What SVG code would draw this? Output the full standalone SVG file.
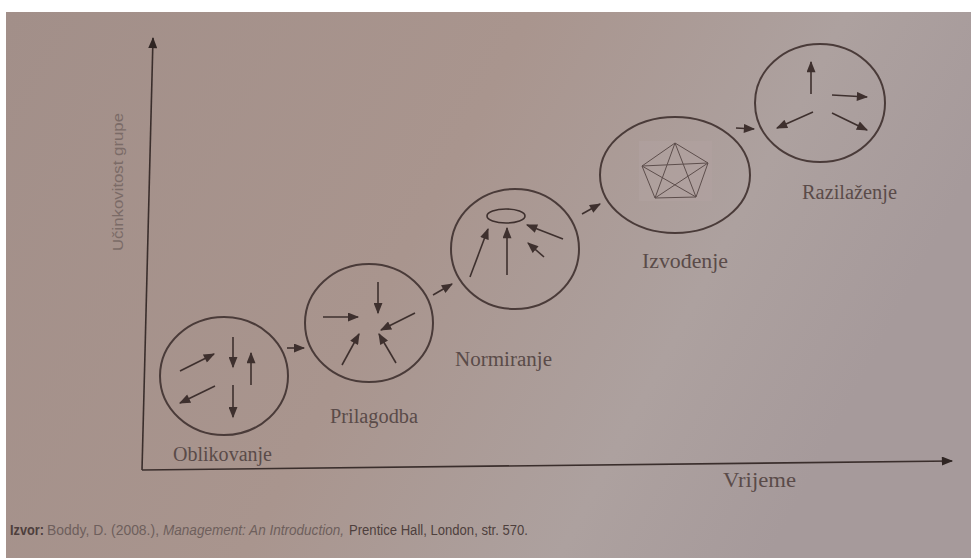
<svg xmlns="http://www.w3.org/2000/svg" width="971" height="558" viewBox="0 0 971 558">
<defs>
<linearGradient id="bg" x1="0" y1="0" x2="1" y2="0.3">
<stop offset="0" stop-color="#a28f89"/>
<stop offset="0.5" stop-color="#a9958e"/>
<stop offset="0.8" stop-color="#ada19f"/>
<stop offset="1" stop-color="#a69a9b"/>
</linearGradient>
<marker id="ah" viewBox="0 0 10 8" refX="9" refY="4" markerWidth="12" markerHeight="9" markerUnits="userSpaceOnUse" orient="auto">
<path d="M0,0 L10,4 L0,8 Z" fill="#3e302e"/>
</marker>
<marker id="axh" viewBox="0 0 10 8" refX="9" refY="4" markerWidth="12" markerHeight="9" markerUnits="userSpaceOnUse" orient="auto">
<path d="M0,0 L10,4 L0,8 Z" fill="#2f2523"/>
</marker>
</defs>
<style>
.c{fill:none;stroke:#4a3b39;stroke-width:2}
.a{stroke:#3e302e;stroke-width:1.6;fill:none;marker-end:url(#ah)}
.ax{stroke:#3a2e2c;stroke-width:1.6;fill:none;marker-end:url(#axh)}
.lbl{font-family:"Liberation Serif","DejaVu Serif",serif;font-size:20px;fill:#5a4b49}
.pl{stroke:#5d4e4c;stroke-width:1;fill:none}
.src{font-family:"Liberation Sans","Open Sans",sans-serif;font-size:14px;fill:#6e5f5c}
.dk{fill:#4e3f3d}
</style>
<rect x="0" y="0" width="971" height="558" fill="#ffffff"/>
<rect x="6" y="12" width="965" height="546" fill="url(#bg)"/>

<g id="axes">
<line class="ax" x1="142" y1="470" x2="153" y2="38"/>
<line class="ax" x1="142" y1="470" x2="952" y2="461"/>
<text transform="translate(123,182) rotate(-90)" text-anchor="middle" font-family="Liberation Sans,Open Sans,sans-serif" font-size="15" fill="#7b6b67" textLength="138" lengthAdjust="spacingAndGlyphs">Učinkovitost grupe</text>
<text class="lbl" x="723" y="487" textLength="73" lengthAdjust="spacingAndGlyphs">Vrijeme</text>
</g>

<g id="connectors">
<line class="a" x1="287" y1="348" x2="304" y2="348"/>
<line class="a" x1="433" y1="295" x2="452" y2="284"/>
<line class="a" x1="582" y1="214" x2="600" y2="204"/>
<line class="a" x1="736" y1="128" x2="754" y2="129"/>
</g>

<g id="oblikovanje">
<ellipse class="c" cx="224" cy="376" rx="64" ry="59"/>
<line class="a" x1="180" y1="371" x2="214" y2="354"/>
<line class="a" x1="233" y1="337" x2="233" y2="367"/>
<line class="a" x1="251" y1="385" x2="251" y2="353"/>
<line class="a" x1="215" y1="386" x2="180" y2="403"/>
<line class="a" x1="233" y1="385" x2="233" y2="417"/>
<text class="lbl" x="173" y="461" textLength="99" lengthAdjust="spacingAndGlyphs">Oblikovanje</text>
</g>

<g id="prilagodba">
<ellipse class="c" cx="369" cy="323" rx="64" ry="59"/>
<line class="a" x1="323" y1="317" x2="358" y2="317"/>
<line class="a" x1="378" y1="282" x2="378" y2="313"/>
<line class="a" x1="415" y1="313" x2="381" y2="330"/>
<line class="a" x1="342" y1="365" x2="359" y2="334"/>
<line class="a" x1="396" y1="363" x2="379" y2="334"/>
<text class="lbl" x="330" y="423" textLength="88" lengthAdjust="spacingAndGlyphs">Prilagodba</text>
</g>

<g id="normiranje">
<ellipse class="c" cx="515" cy="249" rx="64" ry="60"/>
<ellipse cx="506" cy="216" rx="19" ry="7" fill="none" stroke="#3e302e" stroke-width="1.6"/>
<line class="a" x1="470" y1="277" x2="488" y2="229"/>
<line class="a" x1="507" y1="275" x2="507" y2="228"/>
<line class="a" x1="563" y1="239" x2="527" y2="225"/>
<line class="a" x1="544" y1="257" x2="528" y2="243"/>
<text class="lbl" x="455" y="366" textLength="97" lengthAdjust="spacingAndGlyphs">Normiranje</text>
</g>

<g id="izvodenje">
<ellipse class="c" cx="675" cy="175" rx="75" ry="58"/>
<rect x="639" y="141" width="73" height="60" fill="#b0a2a0" opacity="0.6"/>
<polygon class="pl" points="675,143 708,163 696,197 655,198 642,166"/>
<polyline class="pl" points="675,143 696,197 642,166 708,163 655,198 675,143"/>
<text class="lbl" x="642" y="268" textLength="86" lengthAdjust="spacingAndGlyphs">Izvođenje</text>
</g>

<g id="razilazenje">
<ellipse class="c" cx="820" cy="103" rx="65" ry="59"/>
<line class="a" x1="811" y1="94" x2="811" y2="62"/>
<line class="a" x1="832" y1="95" x2="867" y2="97"/>
<line class="a" x1="813" y1="112" x2="777" y2="128"/>
<line class="a" x1="832" y1="113" x2="867" y2="130"/>
<text class="lbl" x="802" y="199" textLength="95" lengthAdjust="spacingAndGlyphs">Razilaženje</text>
</g>

<g id="source">
<text class="src dk" x="10" y="535" font-weight="bold" textLength="34" lengthAdjust="spacingAndGlyphs">Izvor:</text>
<text class="src" x="47" y="535" textLength="112" lengthAdjust="spacingAndGlyphs">Boddy, D. (2008.),</text>
<text class="src" x="163" y="535" font-style="italic" textLength="181" lengthAdjust="spacingAndGlyphs">Management: An Introduction,</text>
<text class="src dk" x="349" y="535" textLength="179" lengthAdjust="spacingAndGlyphs">Prentice Hall, London, str. 570.</text>
</g>
</svg>
